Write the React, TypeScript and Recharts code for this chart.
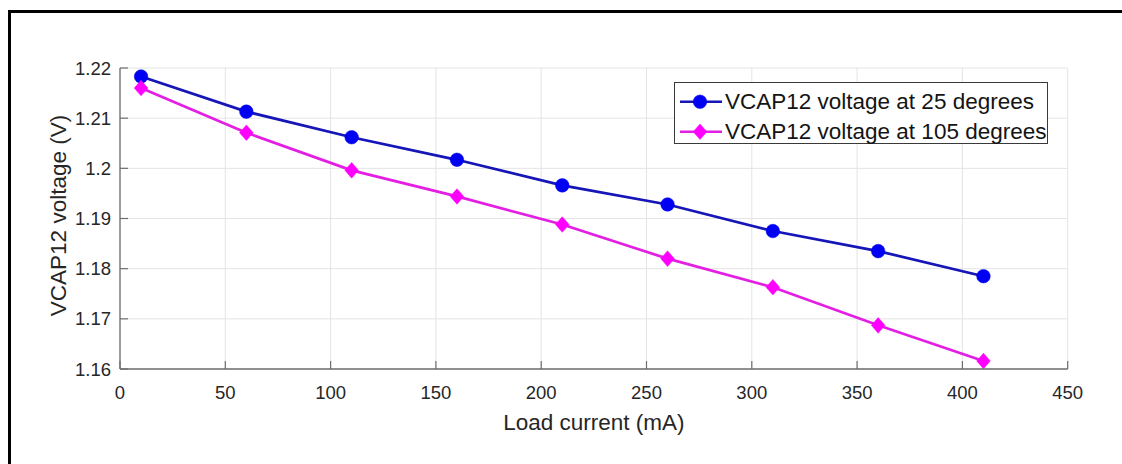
import React from 'react';
import { LineChart, Line, XAxis, YAxis, CartesianGrid, Legend, Label } from 'recharts';

const loadCurrent = [10, 60, 110, 160, 210, 260, 310, 360, 410];
const vcap25 = [1.2183, 1.2113, 1.2062, 1.2017, 1.1966, 1.1928, 1.1875, 1.1835, 1.1785];
const vcap105 = [1.2160, 1.2071, 1.1996, 1.1944, 1.1888, 1.1820, 1.1763, 1.1687, 1.1616];

const xTicks = [0, 50, 100, 150, 200, 250, 300, 350, 400, 450];
const yTicks = [1.16, 1.17, 1.18, 1.19, 1.2, 1.21, 1.22];

const series25 = 'VCAP12 voltage at 25 degrees';
const series105 = 'VCAP12 voltage at 105 degrees';
const legendOrder = ['v25', 'v105'];

const data = loadCurrent.map((x, i) => ({ x, v25: vcap25[i], v105: vcap105[i] }));

const FONT = '"Liberation Sans", Arial, Helvetica, sans-serif';
const AXIS = '#6e6e6e';
const TEXT = '#262626';
const TICK_LEN = 8;

const BLUE_LINE = '#1515b8';
const BLUE_DOT = '#0000f2';
const MAGENTA_LINE = '#e41fe4';
const MAGENTA_DOT = '#ff00ff';

// recharts hands its own r to dots, so the size lives in a prop of our own
const Circle = ({ cx, cy, size = 6.8, fill }: any) =>
    cx == null || cy == null ? null : <circle cx={cx} cy={cy} r={size} fill={fill} stroke={fill} strokeWidth={0.5} />;

const Diamond = ({ cx, cy, w = 6.8, h = 7.8, fill }: any) =>
    cx == null || cy == null ? null : (
        <polygon
            points={`${cx},${cy - h} ${cx + w},${cy} ${cx},${cy + h} ${cx - w},${cy}`}
            fill={fill}
            stroke={fill}
            strokeWidth={0.5}
        />
    );

// bottom axis: label below, tick pointing up into the plot
const BottomTick = ({ x, y, payload }: any) => (
    <g>
        <line x1={x} y1={y} x2={x} y2={y - TICK_LEN} stroke={AXIS} strokeWidth={1.2} />
        <text x={x} y={y + 23} dy="0.36em" textAnchor="middle" fill={TEXT} fontSize={18.5} fontFamily={FONT}>
            {payload.value}
        </text>
    </g>
);

const TopTick = ({ x, y }: any) => (
    <line x1={x} y1={y} x2={x} y2={y + TICK_LEN} stroke={AXIS} strokeWidth={1.2} />
);

const LeftTick = ({ x, y, payload }: any) => (
    <g>
        <line x1={x} y1={y} x2={x + TICK_LEN} y2={y} stroke={AXIS} strokeWidth={1.2} />
        <text x={x - 9} y={y} dy="0.36em" textAnchor="end" fill={TEXT} fontSize={18.5} fontFamily={FONT}>
            {payload.value}
        </text>
    </g>
);

const RightTick = ({ x, y }: any) => (
    <line x1={x} y1={y} x2={x - TICK_LEN} y2={y} stroke={AXIS} strokeWidth={1.2} />
);

const XTitle = ({ viewBox }: any) => (
    <text
        x={viewBox.x + viewBox.width / 2}
        y={viewBox.y + 53}
        dy="0.36em"
        textAnchor="middle"
        fill={TEXT}
        fontSize={22.5}
        fontFamily={FONT}
    >
        Load current (mA)
    </text>
);

const YTitle = ({ viewBox }: any) => {
    const cx = 58;
    const cy = viewBox.y + viewBox.height / 2 - 3;
    return (
        <text
            x={cx}
            y={cy}
            dy="0.36em"
            textAnchor="middle"
            transform={`rotate(-90 ${cx} ${cy})`}
            fill={TEXT}
            fontSize={22.5}
            fontFamily={FONT}
        >
            VCAP12 voltage (V)
        </text>
    );
};

const LegendBox = ({ payload }: any) => {
    const items = [...(payload || [])].sort(
        (a: any, b: any) => legendOrder.indexOf(a.dataKey) - legendOrder.indexOf(b.dataKey)
    );
    return (
        <div
            style={{
                width: 374,
                height: 62,
                boxSizing: 'border-box',
                border: '1px solid #3a3a3a',
                background: '#fff',
                paddingTop: 4,
                fontFamily: FONT,
            }}
        >
            {items.map((entry: any) => {
                const isBlue = entry.dataKey === 'v25';
                return (
                    <div key={entry.dataKey} style={{ display: 'flex', alignItems: 'center', height: 29.5 }}>
                        <svg width={50} height={29.5} style={{ display: 'block' }}>
                            <line x1={5} y1={14.75} x2={47} y2={14.75} stroke={isBlue ? BLUE_LINE : MAGENTA_LINE} strokeWidth={2.6} />
                            {isBlue ? (
                                <Circle cx={25} cy={14.75} fill={BLUE_DOT} />
                            ) : (
                                <Diamond cx={25} cy={14.75} fill={MAGENTA_DOT} />
                            )}
                        </svg>
                        <span style={{ fontSize: 22.5, color: '#141414', whiteSpace: 'nowrap', lineHeight: '29.5px' }}>
                            {entry.value}
                        </span>
                    </div>
                );
            })}
        </div>
    );
};

export default function App() {
    return (
        <div style={{ position: 'absolute', left: 0, top: 0, width: 1122, height: 464, background: '#fff', overflow: 'hidden' }}>
            {/* frame of the figure: only the top and left edges are in view */}
            <div style={{ position: 'absolute', left: 8, top: 10, width: 1114, height: 2.5, background: '#000' }} />
            <div style={{ position: 'absolute', left: 8, top: 10, width: 3, height: 454, background: '#000' }} />
            <LineChart
                width={1122}
                height={464}
                data={data}
                margin={{ top: 68, right: 54.3, bottom: 35, left: 60 }}
                style={{ position: 'absolute', left: 0, top: 0 }}
            >
                <CartesianGrid stroke="#e4e4e4" strokeWidth={1} />
                <XAxis
                    dataKey="x"
                    type="number"
                    domain={[0, 450]}
                    ticks={xTicks}
                    interval={0}
                    height={60}
                    tickSize={0}
                    tickMargin={0}
                    tick={<BottomTick />}
                    tickLine={false}
                    axisLine={{ stroke: AXIS, strokeWidth: 1.3 }}
                >
                    <Label content={<XTitle />} />
                </XAxis>
                <XAxis
                    xAxisId="top"
                    orientation="top"
                    dataKey="x"
                    type="number"
                    domain={[0, 450]}
                    ticks={xTicks}
                    interval={0}
                    height={0}
                    tickSize={0}
                    tickMargin={0}
                    tick={<TopTick />}
                    tickLine={false}
                    axisLine={{ stroke: AXIS, strokeWidth: 1.3 }}
                />
                <YAxis
                    type="number"
                    domain={[1.16, 1.22]}
                    ticks={yTicks}
                    interval={0}
                    width={60}
                    tickSize={0}
                    tickMargin={0}
                    tick={<LeftTick />}
                    tickLine={false}
                    axisLine={{ stroke: AXIS, strokeWidth: 1.3 }}
                    allowDataOverflow
                >
                    <Label content={<YTitle />} />
                </YAxis>
                <YAxis
                    yAxisId="right"
                    orientation="right"
                    type="number"
                    domain={[1.16, 1.22]}
                    ticks={yTicks}
                    interval={0}
                    width={0}
                    tickSize={0}
                    tickMargin={0}
                    tick={<RightTick />}
                    tickLine={false}
                    axisLine={{ stroke: AXIS, strokeWidth: 1.3 }}
                    allowDataOverflow
                />
                <Line
                    dataKey="v25"
                    name={series25}
                    stroke={BLUE_LINE}
                    strokeWidth={2.7}
                    dot={<Circle fill={BLUE_DOT} />}
                    activeDot={false}
                    isAnimationActive={false}
                />
                <Line
                    dataKey="v105"
                    name={series105}
                    stroke={MAGENTA_LINE}
                    strokeWidth={2.7}
                    dot={<Diamond fill={MAGENTA_DOT} />}
                    activeDot={false}
                    isAnimationActive={false}
                />
                <Legend
                    layout="horizontal"
                    verticalAlign="middle"
                    align="center"
                    content={<LegendBox />}
                    wrapperStyle={{ position: 'absolute', left: 674, top: 82, width: 374, height: 62 }}
                />
            </LineChart>
        </div>
    );
}
